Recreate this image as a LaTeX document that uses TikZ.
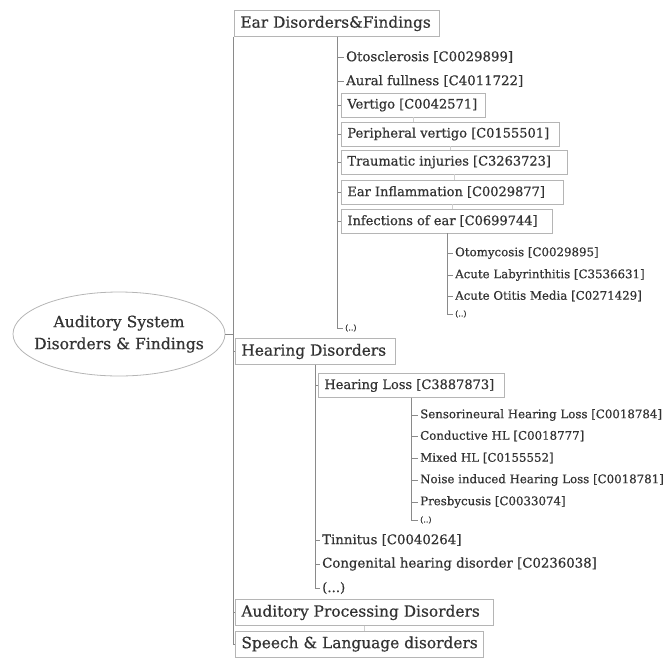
\documentclass[tikz,border=0pt]{standalone}
\usepackage{fontspec}
\setmainfont{DejaVu Serif}[RawFeature={embolden=0.6}]
\usetikzlibrary{shapes.geometric}
\definecolor{ink}{HTML}{333333}
\definecolor{linegray}{HTML}{8A8A8A}
\definecolor{boxgray}{HTML}{B5B5B5}
\definecolor{stubgray}{HTML}{D0D0D0}
\newcommand{\fixw}[2]{\makebox[#1][l]{#2}}
\begin{document}
\begin{tikzpicture}[x=1pt,y=-1pt,
  link/.style={draw=linegray, line width=0.7pt},
  stub/.style={draw=stubgray, line width=0.6pt},
  box/.style={draw=boxgray, line width=0.8pt, fill=white, inner xsep=6pt, inner ysep=0pt, anchor=west, text=ink},
  headbox/.style={box, minimum height=26pt, font=\fontsize{15.4}{18}\selectfont},
  midbox/.style={box, minimum height=24pt, font=\fontsize{13}{15}\selectfont},
  leaf/.style={anchor=west, inner xsep=2pt, inner ysep=1pt, text=ink, font=\fontsize{13.3}{15}\selectfont},
  smallleaf/.style={leaf, font=\fontsize{11.8}{13}\selectfont},
  more/.style={leaf, font=\fontsize{8}{10}\selectfont},
  rootshape/.style={ellipse, draw=boxgray, line width=0.8pt, minimum width=212pt, minimum height=84pt, inner sep=0pt},
  roottext/.style={align=center, text=ink, font=\fontsize{15.6}{22}\selectfont}
]
\useasboundingbox (0,0) rectangle (670,657);

% root
\node[rootshape] (root) at (119,334) {};
\node[roottext] (rootlabel) at (root.center) {Auditory System\\Disorders \& Findings};

% first level
\node[headbox] (ear)  at (234,23.5) {\fixw{193pt}{Ear Disorders\&Findings}};
\node[headbox] (hear) at (235,351.5) {\fixw{148pt}{Hearing Disorders}};
\node[headbox] (apd)  at (235,612.5) {\fixw{246pt}{Auditory Processing Disorders}};
\node[headbox] (sld)  at (235,644) {\fixw{236pt}{Speech \& Language disorders}};

% ear disorders
\node[leaf]   (e1) at (344,57)  {Otosclerosis [C0029899]};
\node[leaf]   (e2) at (344,81)  {Aural fullness [C4011722]};
\node[midbox] (e3) at (341,105) {\fixw{132pt}{Vertigo [C0042571]}};
\node[midbox] (e4) at (341,134) {\fixw{206pt}{Peripheral vertigo [C0155501]}};
\node[midbox] (e5) at (341,162) {\fixw{214pt}{Traumatic injuries [C3263723]}};
\node[midbox] (e6) at (341,192) {\fixw{210pt}{Ear Inflammation [C0029877]}};
\node[midbox] (e7) at (341,221) {\fixw{199pt}{Infections of ear [C0699744]}};
\node[more]   (ee) at (343,328) {(..)};

% infections of ear
\node[smallleaf] (i1) at (453,253) {Otomycosis [C0029895]};
\node[smallleaf] (i2) at (453,275) {Acute Labyrinthitis [C3536631]};
\node[smallleaf] (i3) at (453,296) {Acute Otitis Media [C0271429]};
\node[more]      (ie) at (453,314) {(..)};

% hearing disorders
\node[midbox] (h1) at (318,385.5) {\fixw{174pt}{Hearing Loss [C3887873]}};
\node[leaf]   (h2) at (320,540) {Tinnitus [C0040264]};
\node[leaf]   (h3) at (320,564) {Congenital hearing disorder [C0236038]};
\node[leaf]   (he) at (320,588) {(...)};

% hearing loss
\node[smallleaf] (l1) at (418,415) {Sensorineural Hearing Loss [C0018784]};
\node[smallleaf] (l2) at (418,436) {Conductive HL [C0018777]};
\node[smallleaf] (l3) at (418,458) {Mixed HL [C0155552]};
\node[smallleaf] (l4) at (418,480) {Noise induced Hearing Loss [C0018781]};
\node[smallleaf] (l5) at (418,502) {Presbycusis [C0033074]};
\node[more]      (le) at (418,520) {(..)};

% main trunk
\coordinate (mtop) at ([xshift=-1pt]ear.south west);
\draw[link] (root.east) -- (root.east -| mtop);
\draw[link] (mtop) |- (sld.west);
\foreach \n in {hear,apd} \draw[link] (mtop) |- (\n.west);

% subtrees
\foreach \n in {e1,e2,e3,e4,e5,e6,e7,ee} \draw[link] (ear.south) |- (\n.west);
\foreach \n in {i1,i2,i3,ie} \draw[link] (e7.south) |- (\n.west);
\foreach \n in {h1,h2,h3,he} \draw[link] (hear.south) |- (\n.west);
\foreach \n in {l1,l2,l3,l4,l5,le} \draw[link] (h1.south) |- (\n.west);

% short stubs between stacked boxes
\draw[stub] (e3.south) -- (e3.south |- e4.north);
\draw[stub] (e4.south) -- (e4.south |- e5.north);
\draw[stub] (e5.south) -- (e5.south |- e6.north);
\draw[stub] (e6.south) -- (e6.south |- e7.north);
\draw[stub] (apd.south) -- (apd.south |- sld.north);
\end{tikzpicture}
\end{document}
